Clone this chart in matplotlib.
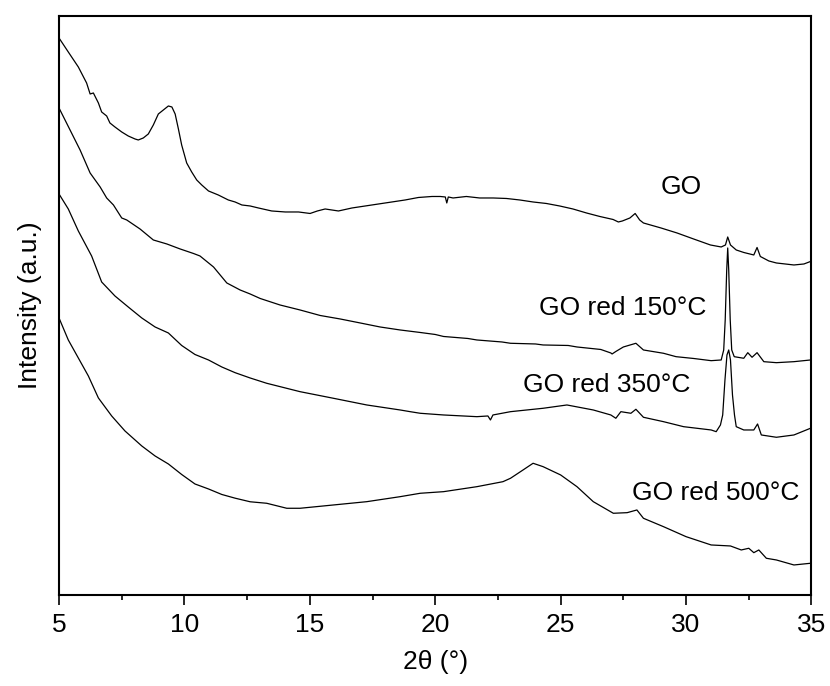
import matplotlib
matplotlib.use("Agg")
import matplotlib.pyplot as plt
from matplotlib.ticker import MultipleLocator

plt.rcParams['font.family'] = ['Liberation Sans', 'DejaVu Sans']

# XRD patterns, intensities in arbitrary units
x_go = [5.00, 5.37, 5.77, 6.10, 6.24, 6.37, 6.57, 6.70, 6.90, 7.03, 7.23, 7.50, 7.76, 8.03, 8.16,
        8.36, 8.56, 8.76, 8.96, 9.16, 9.36, 9.50, 9.63, 9.76, 9.89, 10.09, 10.29, 10.49, 10.69,
        10.96, 11.35, 11.75, 12.02, 12.29, 12.62, 12.95, 13.48, 14.02, 14.55, 15.01, 15.30, 15.61,
        16.14, 16.68, 17.21, 17.74, 18.27, 18.80, 19.33, 19.87, 20.20, 20.40, 20.46, 20.52, 20.71,
        21.24, 21.77, 22.31, 22.84, 23.37, 23.90, 24.43, 24.96, 25.49, 26.03, 26.56, 27.09, 27.30,
        27.46, 27.76, 27.97, 28.15, 28.30, 29.00, 29.64, 30.30, 30.97, 31.40, 31.57, 31.66, 31.77,
        32.00, 32.30, 32.70, 32.83, 32.96, 33.30, 33.60, 34.30, 34.70, 34.96]
y_go = [557, 543, 528, 512, 501, 502, 492, 483, 479, 472, 468, 463, 459, 456, 455,
        457, 461, 470, 481, 485, 489, 488, 481, 466, 450, 432, 423, 415, 410,
        404, 400, 395, 393, 390, 389, 387, 384, 383, 383, 381.5, 384, 386,
        384, 387, 389, 391, 393, 395, 397.5, 398.5, 398.5, 398, 392, 398, 397,
        398.5, 397, 397, 396.5, 395, 393, 391.5, 389, 386, 382, 378.5, 375.5, 373,
        374, 377, 381.5, 375, 372, 367, 362, 356, 350, 348, 350, 358, 350,
        345, 342.5, 340, 347.5, 338.5, 334, 332, 330, 331, 333.5]

x_150 = [5.00, 5.30, 5.84, 6.24, 6.64, 6.90, 7.17, 7.50, 7.70, 8.23, 8.76, 9.30, 9.83, 10.36,
         10.62, 11.16, 11.69, 12.22, 12.62, 13.02, 13.81, 14.61, 15.41, 16.21, 17.01, 17.80,
         18.60, 19.40, 20.00, 20.33, 21.30, 21.66, 22.66, 23.00, 24.00, 24.30, 25.30, 25.65,
         26.60, 27.00, 27.05, 27.20, 27.50, 28.00, 28.30, 29.10, 29.60, 30.30, 31.00, 31.40,
         31.50, 31.56, 31.62, 31.66, 31.70, 31.76, 31.82, 31.92, 32.30, 32.46, 32.63, 32.83,
         33.10, 33.60, 34.30, 34.96]
y_150 = [487, 472, 445, 422, 408, 397, 390, 377, 375, 366, 355, 351, 346, 341.5,
         339, 328, 312, 305, 301, 296.5, 290, 285, 279.5, 276, 272, 268,
         265, 262.5, 260.5, 258.5, 256.5, 255, 253, 251.7, 251, 250, 249.5, 248,
         245.5, 242, 241, 243.5, 248, 251.7, 245, 241.7, 238.3, 236.5, 234.3, 235,
         245, 275, 325, 347, 325, 275, 245, 238.3, 236.7, 242.3, 237.7, 242.3,
         233.3, 232.3, 233.3, 235]

x_350 = [5.00, 5.37, 5.77, 6.30, 6.70, 7.23, 7.76, 8.30, 8.83, 9.36, 9.89, 10.42, 10.96, 11.49,
         12.02, 12.62, 13.28, 14.61, 15.94, 17.27, 18.60, 19.00, 19.40, 20.33, 21.66, 22.10,
         22.20, 22.30, 23.00, 24.30, 25.25, 26.30, 27.00, 27.20, 27.40, 27.80, 28.00, 28.30,
         29.10, 29.90, 31.00, 31.20, 31.37, 31.46, 31.55, 31.63, 31.70, 31.77, 31.85, 31.93,
         32.00, 32.30, 32.70, 32.85, 33.00, 33.60, 34.30, 34.96]
y_350 = [401, 386, 364, 339, 313, 299, 288, 277, 268, 262, 249.5, 240.5, 235, 228,
         222.3, 217, 211.7, 203.3, 196.7, 190, 185, 183.3, 181.7, 180, 178.3, 179,
         175, 180, 183.3, 186.7, 190, 185, 180, 176.7, 183.3, 181.7, 185.7, 177.7,
         173.3, 168.3, 165, 163.3, 170, 180, 215, 240, 245, 235, 200, 180,
         168.3, 165, 165, 171, 160, 157.7, 160, 166.7]

x_500 = [5.00, 5.37, 5.77, 6.17, 6.57, 7.10, 7.63, 8.30, 8.83, 9.36, 9.89, 10.42, 10.96, 11.49,
         12.02, 12.62, 13.28, 14.08, 14.61, 15.94, 17.27, 18.60, 19.40, 20.33, 21.66, 22.70,
         23.00, 23.50, 23.90, 24.30, 25.00, 25.65, 26.30, 27.10, 27.65, 28.04, 28.30, 29.10,
         30.00, 31.00, 31.77, 32.20, 32.50, 32.70, 32.90, 33.20, 33.60, 34.30, 34.96]
y_500 = [277, 255, 237, 219, 197, 179, 164, 149, 139, 131, 120.5, 111, 106, 100.5,
         96.8, 93.2, 91.7, 86.7, 86.7, 90, 93.3, 98.3, 101.7, 103.3, 108.3, 113.3,
         116.7, 125, 131.7, 128.3, 120, 108.3, 93.3, 81.7, 82.3, 85, 76.7, 68.3,
         58.3, 50, 49, 45, 46.7, 42.3, 45, 36.7, 35, 30, 31.7]

labels = ['GO', 'GO red 150°C', 'GO red 350°C', 'GO red 500°C']
label_x = [29.81, 27.48, 26.85, 31.17]
label_y = [408, 287, 210, 102]

fig = plt.figure(figsize=(8.3, 6.86), dpi=100)
ax = fig.add_axes([0.0711, 0.1327, 0.9066, 0.844])

for xs, ys in [(x_go, y_go), (x_150, y_150), (x_350, y_350), (x_500, y_500)]:
    ax.plot(xs, ys, color='black', linewidth=0.9)

for lab, lx, ly in zip(labels, label_x, label_y):
    ax.text(lx, ly, lab, fontsize=19, ha='center', va='center')

ax.set_xlim(5, 35)
ax.set_ylim(0, 579)
ax.set_yticks([])
ax.xaxis.set_major_locator(MultipleLocator(5))
ax.xaxis.set_minor_locator(MultipleLocator(2.5))
ax.tick_params(axis='x', which='major', direction='out', length=7, width=1.2, labelsize=19, pad=6)
ax.tick_params(axis='x', which='minor', direction='out', length=3.5, width=1.2)
for s in ax.spines.values():
    s.set_linewidth(1.5)

ax.set_xlabel('2θ (°)', fontsize=19, labelpad=9)
ax.set_ylabel('Intensity (a.u.)', fontsize=19, labelpad=12)

fig.savefig('out.png', dpi=100)
